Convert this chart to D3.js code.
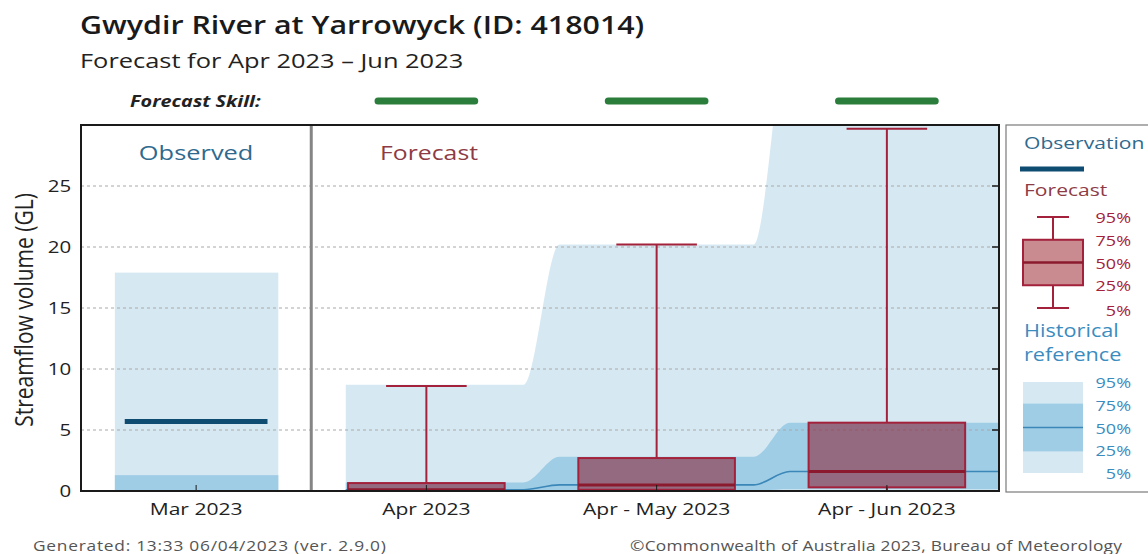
<!DOCTYPE html>
<html>
<head>
<meta charset="utf-8">
<script src="https://cdn.jsdelivr.net/npm/d3@7"></script>
<style>
  body { margin: 0; background: #fff; }
  svg text { font-family: "Open Sans", "Noto Sans", sans-serif; }
</style>
</head>
<body>
<div id="chart"></div>
<script>
// categories
const categories = ["Mar 2023", "Apr 2023", "Apr - May 2023", "Apr - Jun 2023"];
const fcCategories = ["Apr 2023", "Apr - May 2023", "Apr - Jun 2023"];

// observed streamflow (GL) for Mar 2023
const observed = [5.7];

// historical reference percentiles, one per category
const histP5 = [0, 0, 0, 0];
const histP25 = [0, 0.02, 0.05, 0.15];
const histP50 = [null, 0.1, 0.5, 1.6];
const histP75 = [1.3, 0.7, 2.8, 5.6];
const histP95 = [17.9, 8.7, 20.2, 38];

// forecast percentiles, one per forecast category
const fcP5 = [0, 0, 0];
const fcP25 = [0.05, 0.1, 0.3];
const fcP50 = [0.1, 0.5, 1.6];
const fcP75 = [0.65, 2.7, 5.6];
const fcP95 = [8.6, 20.2, 29.7];

const skill = ["High", "High", "High"];
const yTicks = [0, 5, 10, 15, 20, 25];
const legendPcts = ["95%", "75%", "50%", "25%", "5%"];

const width = 1148, height = 554;
const plot = { left: 81, right: 999, top: 125, bottom: 491 };
const SX = 1.24; // the original text is drawn wide

const svg = d3.select('#chart').append('svg')
    .attr('width', width)
    .attr('height', height);

// text helper: stretched horizontally around its anchor point
function label(parent, x, y, str, size, color, anchor) {
    return parent.append('text')
        .attr('transform', `translate(${x},${y}) scale(${SX},1)`)
        .attr('text-anchor', anchor || 'start')
        .style('font-size', size + 'px')
        .attr('fill', color)
        .text(str);
}

const x = d3.scaleBand()
    .domain(categories)
    .range([plot.left, 1002])
    .padding(0);
const bw = x.bandwidth();

const y = d3.scaleLinear()
    .domain([0, 30])
    .range([plot.bottom, plot.top]);

const skillColor = d3.scaleOrdinal().domain(["High", "Moderate", "Low"])
    .range(["#2a7d3b", "#f0a830", "#c0392b"]);

// titles
label(svg, 80, 34, 'Gwydir River at Yarrowyck (ID: 418014)', 24.5, '#1a1a1a').style('font-weight', 600);
label(svg, 80, 68, 'Forecast for Apr 2023 \u2013 Jun 2023', 20.5, '#222');
label(svg, 130, 107, 'Forecast Skill:', 16, '#222')
    .style('font-weight', 700).style('font-style', 'italic');

// skill bars
svg.append('g').selectAll('line')
    .data(fcCategories)
    .join('line')
    .attr('x1', d => x(d) + bw * 0.29)
    .attr('x2', d => x(d) + bw * 0.71)
    .attr('y1', 101).attr('y2', 101)
    .attr('stroke', (d, i) => skillColor(skill[i]))
    .attr('stroke-width', 7)
    .attr('stroke-linecap', 'round');

// clip for plot
svg.append('clipPath').attr('id', 'plotclip')
    .append('rect')
    .attr('x', plot.left).attr('y', plot.top)
    .attr('width', plot.right - plot.left).attr('height', plot.bottom - plot.top);

const g = svg.append('g').attr('clip-path', 'url(#plotclip)');

// observed section: historical reference bars
const obsIdx = [0];
g.selectAll('rect.obs95')
    .data(obsIdx)
    .join('rect')
    .attr('x', i => x(categories[i]) + bw * 0.147)
    .attr('width', bw * 0.71)
    .attr('y', i => y(histP95[i]))
    .attr('height', i => y(histP5[i]) - y(histP95[i]))
    .attr('fill', '#d6e9f3');
g.selectAll('rect.obs75')
    .data(obsIdx)
    .join('rect')
    .attr('x', i => x(categories[i]) + bw * 0.147)
    .attr('width', bw * 0.71)
    .attr('y', i => y(histP75[i]))
    .attr('height', i => y(histP25[i]) - y(histP75[i]))
    .attr('fill', '#a0cde6');

// forecast section: historical reference as smoothed stepped bands
const trans = 18;
const histPts = [];
fcCategories.forEach((c, j) => {
    const i = j + 1;
    const x0 = j === 0 ? x(c) + bw * 0.15 : x(c) + trans;
    const x1 = j === fcCategories.length - 1 ? plot.right + 5 : x(c) + bw - trans;
    [x0, x1].forEach(px => histPts.push({
        x: px, p5: histP5[i], p25: histP25[i], p50: histP50[i], p75: histP75[i], p95: histP95[i]
    }));
});

g.append('path')
    .datum(histPts)
    .attr('fill', '#d6e9f3')
    .attr('d', d3.area().x(d => d.x).y0(d => y(d.p5)).y1(d => y(d.p95)).curve(d3.curveMonotoneX));
g.append('path')
    .datum(histPts)
    .attr('fill', '#a0cde6')
    .attr('d', d3.area().x(d => d.x).y0(d => y(d.p25)).y1(d => y(d.p75)).curve(d3.curveMonotoneX));
g.append('path')
    .datum(histPts)
    .attr('fill', 'none')
    .attr('stroke', '#3a87b8')
    .attr('stroke-width', 1.6)
    .attr('d', d3.line().x(d => d.x).y(d => y(d.p50)).curve(d3.curveMonotoneX));

// gridlines
g.append('g').selectAll('line')
    .data(yTicks.filter(t => t > 0))
    .join('line')
    .attr('x1', plot.left).attr('x2', plot.right)
    .attr('y1', d => y(d)).attr('y2', d => y(d))
    .attr('stroke', '#a8a8a8')
    .attr('stroke-width', 1)
    .attr('stroke-dasharray', '3,3');

// observation line
g.selectAll('line.obs')
    .data(observed)
    .join('line')
    .attr('x1', x("Mar 2023") + bw * 0.19)
    .attr('x2', x("Mar 2023") + bw * 0.81)
    .attr('y1', d => y(d)).attr('y2', d => y(d))
    .attr('stroke', '#0f4c72')
    .attr('stroke-width', 5);

// forecast boxplots
const fcData = fcCategories.map((c, i) => ({
    c, p5: fcP5[i], p25: fcP25[i], p50: fcP50[i], p75: fcP75[i], p95: fcP95[i]
}));
const boxW = bw * 0.68, capW = bw * 0.35;
const bp = g.append('g').selectAll('g').data(fcData).join('g');
bp.append('line')
    .attr('x1', d => x(d.c) + bw / 2).attr('x2', d => x(d.c) + bw / 2)
    .attr('y1', d => y(d.p75)).attr('y2', d => y(d.p95))
    .attr('stroke', '#a3213a').attr('stroke-width', 2);
bp.append('line')
    .attr('x1', d => x(d.c) + bw / 2).attr('x2', d => x(d.c) + bw / 2)
    .attr('y1', d => y(d.p5)).attr('y2', d => y(d.p25))
    .attr('stroke', '#a3213a').attr('stroke-width', 2);
bp.append('line')
    .attr('x1', d => x(d.c) + bw / 2 - capW / 2).attr('x2', d => x(d.c) + bw / 2 + capW / 2)
    .attr('y1', d => y(d.p95)).attr('y2', d => y(d.p95))
    .attr('stroke', '#a3213a').attr('stroke-width', 2);
bp.append('rect')
    .attr('x', d => x(d.c) + bw / 2 - boxW / 2)
    .attr('width', boxW)
    .attr('y', d => y(d.p75))
    .attr('height', d => y(d.p25) - y(d.p75))
    .attr('fill', '#8b1a2e').attr('fill-opacity', 0.55)
    .attr('stroke', '#a3213a').attr('stroke-width', 2);
bp.append('line')
    .attr('x1', d => x(d.c) + bw / 2 - boxW / 2).attr('x2', d => x(d.c) + bw / 2 + boxW / 2)
    .attr('y1', d => y(d.p50)).attr('y2', d => y(d.p50))
    .attr('stroke', '#8b1a2e').attr('stroke-width', 3);

// section labels
label(svg, x("Mar 2023") + bw / 2, 160, 'Observed', 20.5, '#2f6a8e', 'middle');
label(svg, 380, 160, 'Forecast', 20, '#8e3b45');

// divider
svg.append('line')
    .attr('x1', x("Apr 2023")).attr('x2', x("Apr 2023"))
    .attr('y1', plot.top).attr('y2', plot.bottom)
    .attr('stroke', '#858585').attr('stroke-width', 3);

// frame
svg.append('rect')
    .attr('x', plot.left).attr('y', plot.top)
    .attr('width', plot.right - plot.left).attr('height', plot.bottom - plot.top)
    .attr('fill', 'none').attr('stroke', '#1a1a1a').attr('stroke-width', 2);

// right inward ticks
svg.append('g').selectAll('line')
    .data(yTicks.filter(t => t > 0))
    .join('line')
    .attr('x1', plot.right - 7).attr('x2', plot.right)
    .attr('y1', d => y(d)).attr('y2', d => y(d))
    .attr('stroke', '#1a1a1a').attr('stroke-width', 1.5);

// y axis
const yAxis = d3.axisLeft(y).tickValues(yTicks).tickSize(0).tickPadding(8);
const yg = svg.append('g').attr('transform', `translate(${plot.left},0)`).call(yAxis);
yg.select('.domain').remove();
yg.selectAll('text').style('font-size', '16.5px').attr('fill', '#222')
    .attr('transform', `scale(${SX},1)`);

// x axis
const xAxis = d3.axisBottom(x).tickSize(-6).tickPadding(12);
const xg = svg.append('g').attr('transform', `translate(0,${plot.bottom})`).call(xAxis);
xg.select('.domain').remove();
xg.selectAll('line').attr('stroke', '#1a1a1a');
xg.selectAll('text').style('font-size', '17px').attr('fill', '#222')
    .attr('transform', `scale(${SX},1)`);

// y title
svg.append('text')
    .attr('transform', `translate(33,310) scale(${SX},1) rotate(-90)`)
    .attr('text-anchor', 'middle')
    .style('font-size', '21px').attr('fill', '#222')
    .text('Streamflow volume (GL)');

// legend
const lg = svg.append('g');
lg.append('rect').attr('x', 1006).attr('y', plot.top).attr('width', 160).attr('height', plot.bottom - plot.top + 1)
    .attr('fill', '#fff').attr('stroke', '#7a7a7a').attr('stroke-width', 1.2);
label(lg, 1024, 149, 'Observation', 17, '#2f6a8e');
lg.append('line').attr('x1', 1020).attr('x2', 1084).attr('y1', 169).attr('y2', 169)
    .attr('stroke', '#0f4c72').attr('stroke-width', 5);
label(lg, 1024, 196, 'Forecast', 17, '#8e3b45');

const ly = d3.scaleLinear().domain([0, 4]).range([217, 308]);
lg.append('line').attr('x1', 1053).attr('x2', 1053).attr('y1', ly(0)).attr('y2', ly(4))
    .attr('stroke', '#a3213a').attr('stroke-width', 2);
[0, 4].forEach(k => lg.append('line').attr('x1', 1037).attr('x2', 1069).attr('y1', ly(k)).attr('y2', ly(k))
    .attr('stroke', '#a3213a').attr('stroke-width', 2));
lg.append('rect').attr('x', 1023).attr('y', ly(1)).attr('width', 60).attr('height', ly(3) - ly(1))
    .attr('fill', '#c98a90').attr('stroke', '#a3213a').attr('stroke-width', 2);
lg.append('line').attr('x1', 1023).attr('x2', 1083).attr('y1', ly(2)).attr('y2', ly(2))
    .attr('stroke', '#8b1a2e').attr('stroke-width', 2.5);
legendPcts.forEach((p, i) => label(lg, 1131, ly(i) + 6 + (i === 4 ? 2 : 0), p, 14.5, '#a3213a', 'end'));

label(lg, 1024, 337, 'Historical', 17.5, '#3a8cbf');
label(lg, 1024, 361, 'reference', 17.5, '#3a8cbf');

const hy = d3.scaleLinear().domain([0, 4]).range([382, 473]);
lg.append('rect').attr('x', 1023).attr('y', hy(0)).attr('width', 60).attr('height', hy(4) - hy(0)).attr('fill', '#d6e9f3');
lg.append('rect').attr('x', 1023).attr('y', hy(0.95)).attr('width', 60).attr('height', hy(3.05) - hy(0.95)).attr('fill', '#a0cde6');
lg.append('line').attr('x1', 1023).attr('x2', 1083).attr('y1', hy(2)).attr('y2', hy(2))
    .attr('stroke', '#3a87b8').attr('stroke-width', 1.5);
legendPcts.forEach((p, i) => label(lg, 1131, hy(i) + 6, p, 14.5, '#3a8cbf', 'end'));

// footer
label(svg, 33, 551, 'Generated: 13:33 06/04/2023 (ver. 2.9.0)', 14, '#555').style('letter-spacing', '0.6px');
label(svg, 630, 551, '\u00a9Commonwealth of Australia 2023, Bureau of Meteorology', 14, '#555').style('letter-spacing', '0.2px');
</script>
</body>
</html>
